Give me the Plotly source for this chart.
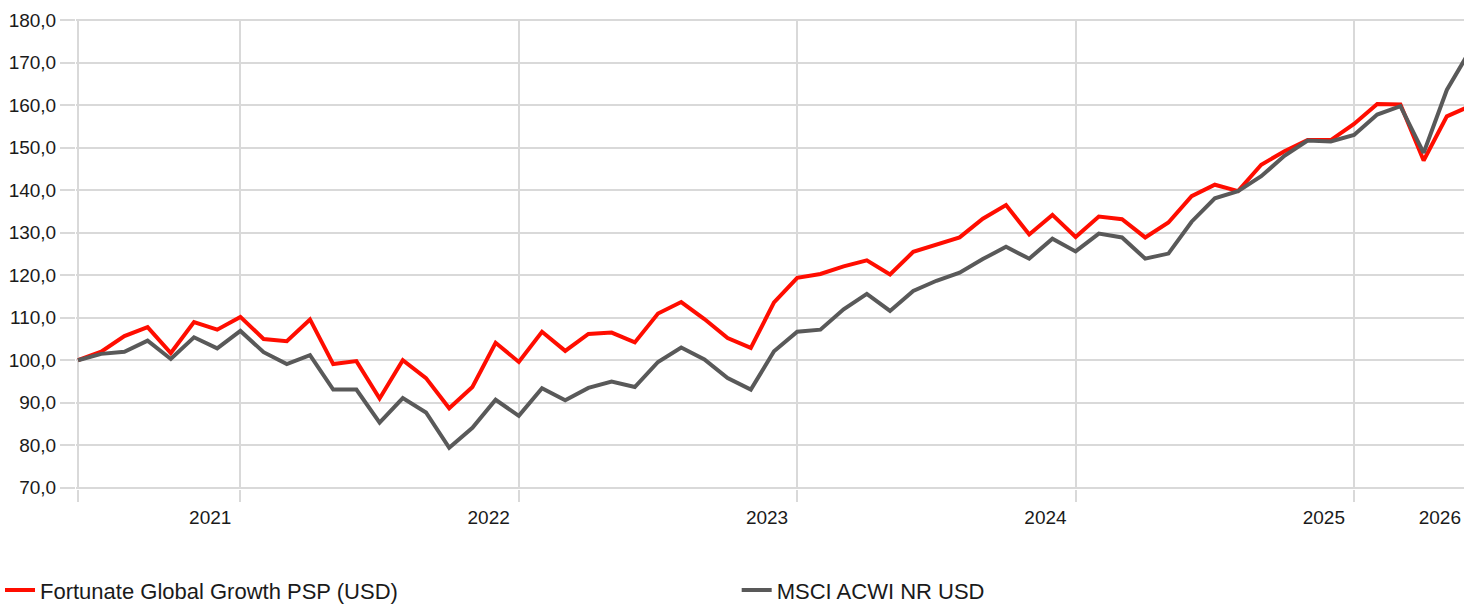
import plotly.graph_objects as go

# month index (0 = first month of the series)
months = list(range(61))

fund = [100.0, 102.0, 105.7, 107.8, 101.7, 109.0, 107.2, 110.2, 105.0, 104.5,
        109.6, 99.1, 99.8, 91.0, 100.0, 95.8, 88.7, 93.7, 104.1, 99.6,
        106.7, 102.2, 106.2, 106.5, 104.2, 111.0, 113.7, 109.7, 105.2, 102.9,
        113.6, 119.4, 120.3, 122.1, 123.5, 120.2, 125.5, 127.1, 128.9, 133.3,
        136.5, 129.6, 134.2, 129.0, 133.8, 133.2, 128.9, 132.4, 138.6, 141.3,
        139.8, 146.0, 149.2, 151.8, 151.8, 155.6, 160.3, 160.2, 147.0, 157.4,
        159.8]

bench = [100.0, 101.5, 102.0, 104.6, 100.3, 105.4, 102.8, 106.9, 101.9, 99.1,
         101.2, 93.1, 93.1, 85.3, 91.1, 87.7, 79.4, 84.1, 90.7, 86.9,
         93.4, 90.6, 93.5, 95.0, 93.7, 99.6, 103.0, 100.2, 95.8, 93.1,
         102.1, 106.7, 107.2, 112.0, 115.6, 111.6, 116.3, 118.7, 120.6, 123.8,
         126.7, 123.9, 128.6, 125.6, 129.8, 128.9, 123.9, 125.1, 132.6, 138.1,
         139.8, 143.3, 148.1, 151.7, 151.5, 153.0, 157.8, 159.8, 148.8, 163.6,
         172.9]

# year boundaries (month index) and their labels
year_bounds = [0, 7, 19, 31, 43, 55, 60]
year_labels = ["", "2021", "2022", "2023", "2024", "2025", "2026"]

fund_name = "Fortunate Global Growth PSP (USD)"
bench_name = "MSCI ACWI NR USD"

GRID = "#d9d9d9"
FONT = "Liberation Sans, Arial, sans-serif"

label_pos = [b - 1.3 for b in year_bounds[1:]]

fig = go.Figure()
fig.add_trace(go.Scatter(x=months, y=fund, mode="lines", name=fund_name,
                         line=dict(color="#ff0d00", width=4), legend="legend"))
fig.add_trace(go.Scatter(x=months, y=bench, mode="lines", name=bench_name,
                         line=dict(color="#595959", width=4), legend="legend2"))

fig.update_layout(
    width=1464, height=605,
    margin=dict(l=76, r=0, t=19, b=116, autoexpand=False),
    paper_bgcolor="white", plot_bgcolor="white",
    separators=",.",
    font=dict(family=FONT, size=19, color="#1a1a1a"),
    showlegend=True,
    legend=dict(orientation="h", xref="container", yref="container",
                x=0.0, xanchor="left", y=0.0245, yanchor="middle",
                font=dict(size=22, family=FONT, color="#1a1a1a"),
                bgcolor="rgba(0,0,0,0)"),
    legend2=dict(orientation="h", xref="container", yref="container",
                 x=0.5032, xanchor="left", y=0.0245, yanchor="middle",
                 font=dict(size=22, family=FONT, color="#1a1a1a"),
                 bgcolor="rgba(0,0,0,0)"),
    xaxis=dict(
        range=[-0.086, 59.74],
        tickmode="array", tickvals=label_pos, ticktext=year_labels[1:],
        showgrid=False, ticks="", zeroline=False, showline=False,
        ticklabelstandoff=15, automargin=False,
        tickfont=dict(size=19, family=FONT, color="#1a1a1a"),
        minor=dict(tickmode="array", tickvals=year_bounds[:-1], showgrid=True,
                   gridcolor=GRID, gridwidth=2, ticks="outside", ticklen=12,
                   tickcolor=GRID, tickwidth=2),
    ),
    yaxis=dict(
        range=[69.7, 180.3],
        tickmode="linear", tick0=70, dtick=10, tickformat=".1f",
        showgrid=True, gridcolor=GRID, gridwidth=2, zeroline=False,
        ticks="outside", ticklen=15, tickcolor=GRID, tickwidth=2,
        automargin=False,
        tickfont=dict(size=19, family=FONT, color="#1a1a1a"),
    ),
)

fig.write_html("out.html", config={"displayModeBar": False},
               post_script="document.body.style.margin='0';")
